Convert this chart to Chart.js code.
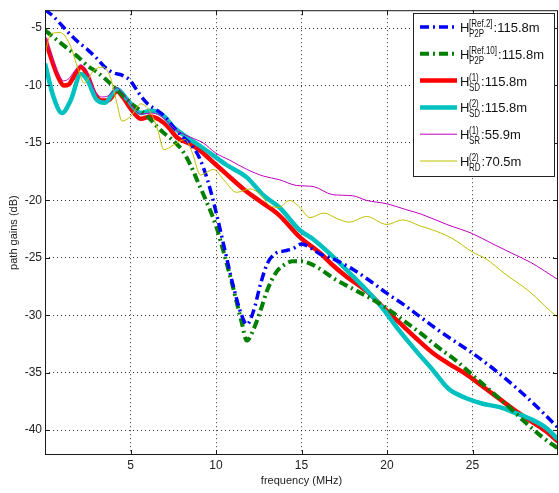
<!DOCTYPE html>
<html>
<head>
<meta charset="utf-8">
<script src="https://cdn.jsdelivr.net/npm/chart.js@4.4.0/dist/chart.umd.min.js"></script>
<style>
  html, body { margin: 0; padding: 0; background: #fff; }
  #wrap { width: 559px; height: 493px; }
</style>
</head>
<body>
<div id="wrap"><canvas id="myChart"></canvas></div>
<script>
// tick labels
var xTicks = [5, 10, 15, 20, 25];
var yTicks = [-40, -35, -30, -25, -20, -15, -10, -5];

// H_P2P [Ref.2]
var ref2Freq = [0, 0.5, 1, 1.5, 2, 2.5, 3, 3.5, 4, 4.5, 5, 5.5, 6, 6.5, 7, 7.5, 8, 8.5, 9, 9.5, 10, 10.5, 11, 11.5, 11.8, 12.2, 12.6, 13, 13.5, 14, 14.5, 15, 15.5, 16, 17, 18, 19, 20, 21, 22, 23, 24, 25, 26, 27, 28, 29, 30];
var ref2Gain = [-3.4, -4.0, -4.8, -5.6, -6.3, -6.9, -7.6, -8.4, -8.9, -9.1, -9.6, -10.7, -11.6, -12.1, -12.7, -13.6, -14.4, -15.1, -16.2, -18.2, -21.0, -24.2, -27.4, -30.0, -30.8, -29.6, -27.3, -25.5, -24.6, -24.4, -24.2, -23.8, -24.1, -24.6, -25.2, -26.0, -27.0, -28.1, -29.1, -30.2, -31.3, -32.3, -33.3, -34.4, -35.6, -36.9, -38.3, -39.8];

// H_P2P [Ref.10]
var ref10Freq = [0, 0.5, 1, 1.5, 2, 2.5, 3, 3.5, 4, 4.5, 5, 5.5, 6, 6.5, 7, 7.5, 8, 8.5, 9, 9.5, 10, 10.5, 11, 11.5, 11.8, 12.2, 12.6, 13, 13.5, 14, 14.5, 15, 15.5, 16, 17, 18, 19, 20, 21, 22, 23, 24, 25, 26, 27, 28, 29, 30];
var ref10Gain = [-5.2, -5.8, -6.4, -7.0, -7.6, -8.3, -8.8, -9.4, -10.1, -10.8, -11.5, -12.1, -12.7, -13.5, -14.2, -14.8, -15.6, -16.9, -18.6, -20.3, -22.2, -24.8, -27.6, -30.6, -32.2, -31.2, -29.6, -27.8, -26.3, -25.6, -25.3, -25.3, -25.5, -25.9, -26.9, -27.7, -28.5, -29.4, -30.5, -31.6, -32.8, -33.9, -35.2, -36.5, -37.8, -39.2, -40.5, -41.6];

// H_SD (1)
var sd1Freq = [0, 0.4, 0.75, 1.1, 1.4, 1.7, 2.1, 2.5, 2.9, 3.3, 3.7, 4.2, 4.6, 5.0, 5.6, 6.2, 6.7, 7.2, 7.7, 8.5, 9.1, 9.7, 10.6, 11.6, 12.6, 13.7, 14.9, 16.1, 16.8, 17.6, 18.8, 19.7, 20.7, 21.7, 22.7, 23.6, 24.6, 25.6, 26.6, 27.5, 28.5, 29.3, 30];
var sd1Gain = [-5.9, -7.8, -9.2, -10.0, -9.9, -9.2, -8.4, -9.2, -10.7, -11.3, -11.3, -10.5, -11.1, -12.0, -12.9, -12.7, -13.0, -13.6, -14.5, -15.1, -15.7, -16.5, -17.7, -19.0, -20.1, -21.3, -23.2, -24.6, -25.6, -26.6, -27.9, -29.2, -30.6, -32.0, -33.3, -34.2, -35.1, -36.2, -37.3, -38.3, -39.3, -40.1, -41.0];

// H_SD (2)
var sd2Freq = [0, 0.5, 1.0, 1.5, 2.1, 2.5, 3.0, 3.5, 4.2, 4.8, 5.6, 6.2, 6.9, 7.5, 8.1, 9.2, 10.6, 11.8, 12.8, 13.7, 14.9, 15.7, 16.7, 18, 18.8, 19.7, 20.7, 21.7, 22.7, 23.6, 24.6, 25.6, 26.6, 27.5, 28.5, 29.3, 30];
var sd2Gain = [-8.1, -11.0, -12.4, -11.3, -9.0, -9.6, -11.2, -11.5, -10.3, -11.2, -12.4, -12.2, -12.6, -13.6, -14.3, -15.4, -16.9, -18.0, -19.6, -20.6, -22.6, -23.4, -24.7, -26.6, -27.8, -29.3, -31.3, -33.1, -34.8, -36.4, -37.2, -37.7, -38.0, -38.5, -39.1, -39.8, -40.8];

// H_SR (1)
var sr1Freq = [0, 0.4, 0.75, 1.1, 1.4, 1.7, 2.1, 2.5, 2.9, 3.3, 3.7, 4.2, 4.6, 5.0, 5.6, 6.2, 6.7, 7.2, 7.7, 8.5, 9.25, 10, 10.8, 11.8, 12.8, 13.7, 14.7, 15.7, 16.8, 18, 18.8, 20, 21.1, 22, 23.5, 25, 26.2, 27.3, 28.4, 30];
var sr1Gain = [-5.6, -7.5, -8.9, -9.6, -9.4, -8.8, -8.2, -9.0, -10.4, -11.0, -10.9, -10.2, -10.8, -11.6, -12.5, -12.4, -12.6, -13.2, -13.9, -14.5, -15.0, -15.9, -16.5, -17.3, -17.9, -18.2, -18.7, -18.8, -19.5, -19.6, -20.0, -20.3, -20.8, -21.2, -22.1, -22.9, -23.8, -24.6, -25.4, -26.9];

// H_RD (2)
var rd2Freq = [0, 0.35, 0.9, 1.5, 1.9, 2.3, 2.85, 3.4, 3.8, 4.2, 4.5, 5.0, 5.6, 6.2, 6.6, 6.95, 7.5, 8.2, 8.6, 9.1, 9.85, 10.5, 11.2, 12.0, 12.6, 13.2, 13.7, 14.3, 14.9, 15.5, 16.3, 17.1, 17.8, 18.8, 20, 20.9, 21.9, 22.9, 23.8, 25, 25.8, 26.9, 28.3, 29.6, 30];
var rd2Gain = [-7.2, -5.5, -5.4, -6.6, -8.4, -9.8, -8.7, -8.4, -9.2, -11.5, -13.1, -12.7, -11.6, -12.4, -13.9, -15.6, -15.2, -14.7, -15.8, -17.8, -17.3, -18.3, -19.3, -19.0, -19.5, -20.5, -20.6, -20.0, -20.6, -21.5, -21.1, -21.6, -21.9, -21.4, -22.1, -21.7, -22.2, -22.7, -23.3, -24.5, -25.1, -26.4, -27.9, -29.7, -30.2];

function toPoints(fs, gs) {
    return fs.map(function (f, i) { return { x: f, y: gs[i] }; });
}

var FONT = "'Liberation Sans', Arial, Helvetica, sans-serif";
Chart.defaults.font.family = FONT;

var series = [
    { sup: '[Ref.2]', sub: 'P2P', val: ':115.8m', color: '#0000ff', width: 3.5, dash: [9, 4, 2, 4], order: 2, data: toPoints(ref2Freq, ref2Gain) },
    { sup: '[Ref.10]', sub: 'P2P', val: ':115.8m', color: '#007f00', width: 4, dash: [9, 4, 2, 4], order: 3, data: toPoints(ref10Freq, ref10Gain) },
    { sup: '(1)', sub: 'SD', val: ':115.8m', color: '#ff0000', width: 4.5, dash: [], order: 5, data: toPoints(sd1Freq, sd1Gain) },
    { sup: '(2)', sub: 'SD', val: ':115.8m', color: '#00c0c0', width: 4.5, dash: [], order: 4, data: toPoints(sd2Freq, sd2Gain) },
    { sup: '(1)', sub: 'SR', val: ':55.9m', color: '#bf00bf', width: 1, dash: [], order: 1, data: toPoints(sr1Freq, sr1Gain) },
    { sup: '(2)', sub: 'RD', val: ':70.5m', color: '#bfbf00', width: 1, dash: [], order: 0, data: toPoints(rd2Freq, rd2Gain) }
];

// box, inward ticks and legend (matlab look)
var matlabBox = {
    id: 'matlabBox',
    afterDatasetsDraw: function (chart) {
        var ctx = chart.ctx, a = chart.chartArea;
        var xs = chart.scales.x, ys = chart.scales.y;
        ctx.save();
        ctx.strokeStyle = '#1a1a1a';
        ctx.lineWidth = 1;
        ctx.setLineDash([]);
        ctx.strokeRect(a.left + 0.5, a.top + 0.5, a.right - a.left - 1, a.bottom - a.top - 1);
        ctx.beginPath();
        xTicks.forEach(function (v) {
            var px = Math.round(xs.getPixelForValue(v)) + 0.5;
            ctx.moveTo(px, a.bottom); ctx.lineTo(px, a.bottom - 5);
            ctx.moveTo(px, a.top); ctx.lineTo(px, a.top + 5);
        });
        yTicks.forEach(function (v) {
            var py = Math.round(ys.getPixelForValue(v)) + 0.5;
            ctx.moveTo(a.left, py); ctx.lineTo(a.left + 5, py);
            ctx.moveTo(a.right, py); ctx.lineTo(a.right - 5, py);
        });
        ctx.stroke();

        // legend
        var lx = 413, ly = 13, lw = 141, lh = 163;
        ctx.fillStyle = '#fff';
        ctx.fillRect(lx, ly, lw, lh);
        ctx.strokeStyle = '#222';
        ctx.strokeRect(lx + 0.5, ly + 0.5, lw, lh);
        series.forEach(function (s, i) {
            var y = 27 + i * 26.8;
            ctx.beginPath();
            ctx.strokeStyle = s.color;
            ctx.lineWidth = s.width;
            ctx.setLineDash(s.dash);
            ctx.moveTo(420, y); ctx.lineTo(457, y);
            ctx.stroke();
            ctx.setLineDash([]);
            ctx.fillStyle = '#111';
            ctx.textBaseline = 'alphabetic';
            ctx.textAlign = 'left';
            ctx.font = '13px ' + FONT;
            ctx.fillText('H', 460, y + 5);
            ctx.font = '10px ' + FONT;
            var sx = 0.8;
            var w = Math.max(ctx.measureText(s.sup).width, ctx.measureText(s.sub).width) * sx;
            ctx.save();
            ctx.translate(469, 0);
            ctx.scale(sx, 1);
            ctx.fillText(s.sup, 0, y);
            ctx.fillText(s.sub, 0, y + 10);
            ctx.restore();
            ctx.font = '13px ' + FONT;
            ctx.fillText(s.val, 469 + w + 1, y + 5);
        });
        ctx.restore();
    }
};

var ctx = document.getElementById('myChart').getContext('2d');

var chart = new Chart(ctx, {
    type: 'line',
    data: {
        datasets: series.map(function (s) {
            return {
                label: s.sub + s.sup,
                data: s.data,
                borderColor: s.color,
                backgroundColor: s.color,
                borderWidth: s.width,
                borderDash: s.dash,
                pointRadius: 0,
                fill: false,
                order: s.order,
                cubicInterpolationMode: 'monotone'
            };
        })
    },
    options: {
        responsive: true,
        maintainAspectRatio: false,
        animation: false,
        devicePixelRatio: 1,
        layout: { padding: { top: 6, right: 1, left: 0, bottom: 0 } },
        plugins: {
            legend: { display: false },
            tooltip: { enabled: false }
        },
        scales: {
            x: {
                type: 'linear',
                min: 0,
                max: 30,
                afterBuildTicks: function (s) { s.ticks = xTicks.map(function (v) { return { value: v }; }); },
                afterFit: function (s) { s.height = 38; },
                ticks: { color: '#222', font: { size: 12 }, padding: 3, maxRotation: 0, autoSkip: false },
                grid: { color: 'rgba(0,0,0,0.8)', lineWidth: 1, drawTicks: false },
                border: { display: false, dash: [1, 3] },
                title: { display: true, text: 'frequency (MHz)', color: '#222', font: { size: 11 }, padding: { top: 0, bottom: 5 } }
            },
            y: {
                min: -42.16,
                max: -3.45,
                afterBuildTicks: function (s) { s.ticks = yTicks.map(function (v) { return { value: v }; }); },
                afterFit: function (s) { s.width = 45; },
                ticks: { color: '#222', font: { size: 12 }, padding: 3, autoSkip: false },
                grid: { color: 'rgba(0,0,0,0.8)', lineWidth: 1, drawTicks: false },
                border: { display: false, dash: [1, 3] },
                title: { display: true, text: 'path gains (dB)', color: '#222', font: { size: 11 }, padding: { top: 7, bottom: 0 } }
            }
        }
    },
    plugins: [matlabBox]
});
</script>
</body>
</html>
